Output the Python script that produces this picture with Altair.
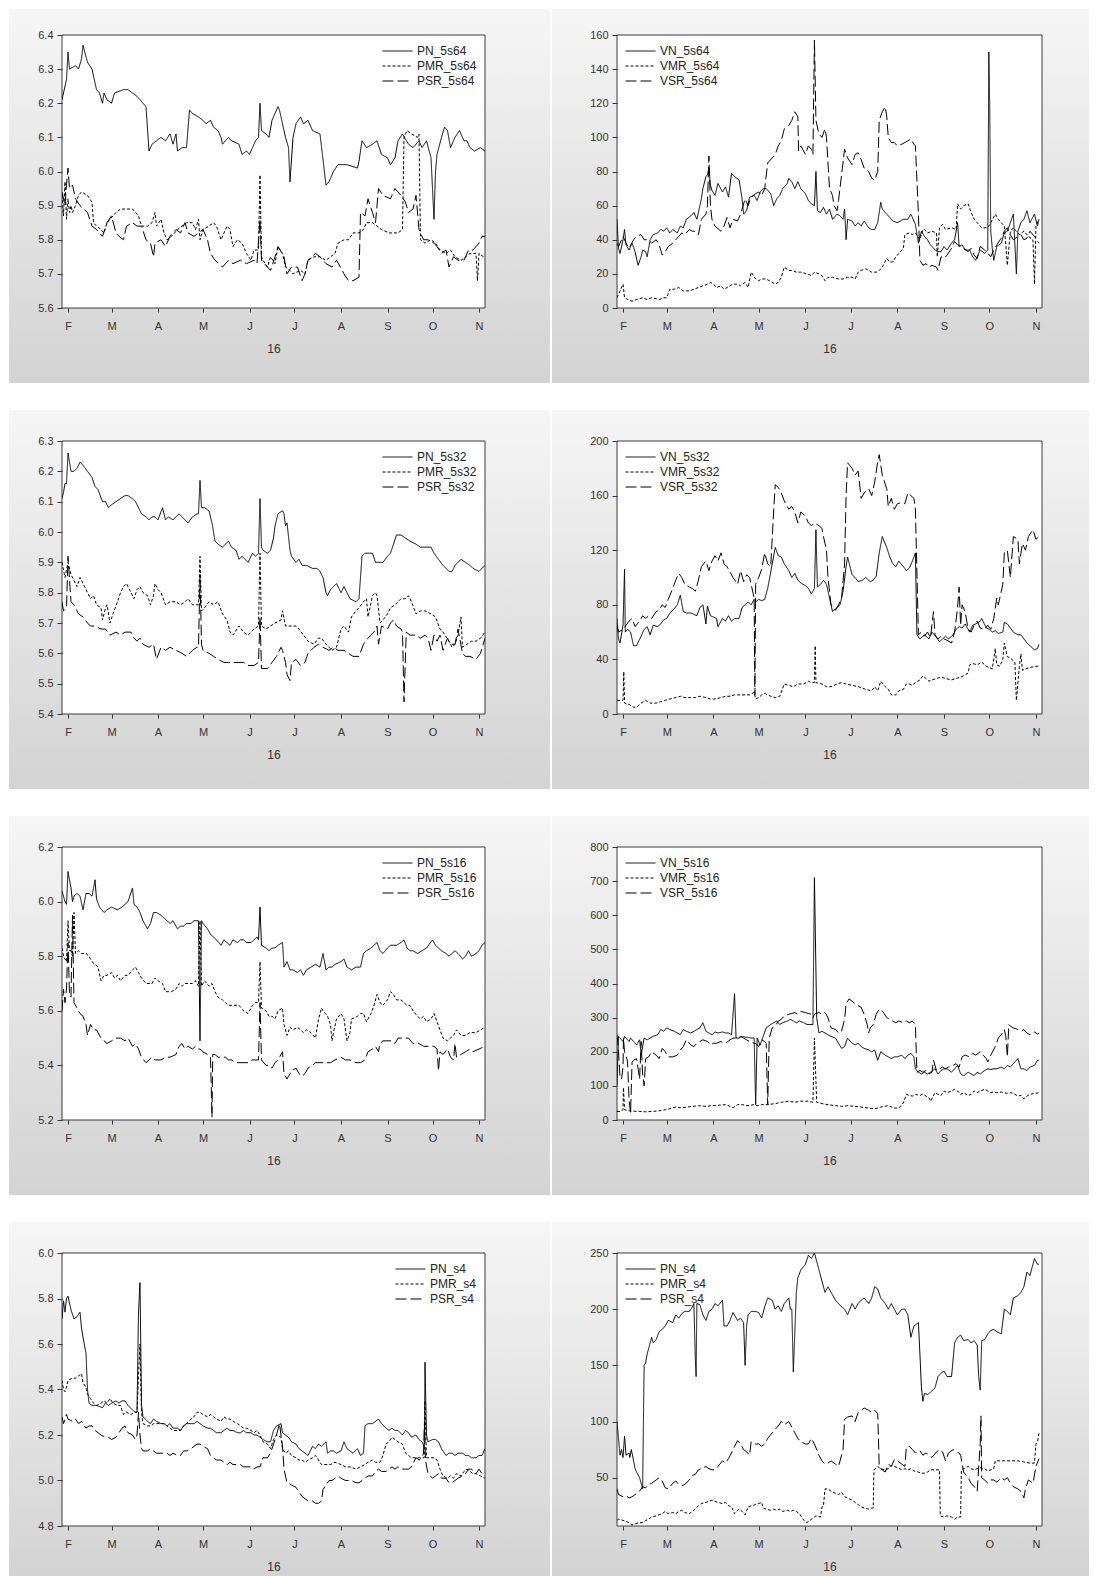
import altair as alt
import pandas as pd

START = pd.Timestamp("2016-01-28")
X_DOMAIN = ["2016-01-28T00:00:00", "2016-11-05T00:00:00"]
MONTH_TICKS = [alt.DateTime(year=2016, month=m, date=1) for m in range(2, 12)]
YEAR_LABEL = "16"

# ---------- data: (day offset from 2016-01-28, value) ----------
PN_5s64 = [(0,6.21),(3,6.27),(4,6.35),(5,6.30),(9,6.31),(11,6.30),(13,6.33),(14,6.37),(17,6.32),(20,6.30),(23,6.24),(25,6.23),(27,6.20),(28,6.23),(30,6.21),(33,6.20),(35,6.23),(41,6.24),(44,6.24),(47,6.23),(50,6.22),(54,6.20),(56,6.19),(58,6.06),(60,6.08),(63,6.09),(66,6.10),(69,6.09),(72,6.11),(74,6.08),(76,6.11),(77,6.06),(80,6.07),(83,6.07),(85,6.18),(87,6.17),(91,6.16),(94,6.15),(96,6.14),(99,6.15),(101,6.13),(104,6.12),(106,6.10),(107,6.08),(111,6.10),(113,6.09),(118,6.08),(120,6.05),(123,6.06),(125,6.05),(127,6.07),(129,6.09),(131,6.10),(132,6.20),(133,6.12),(136,6.11),(138,6.10),(140,6.15),(144,6.19),(145,6.18),(149,6.10),(151,6.07),(152,5.97),(154,6.10),(156,6.14),(159,6.16),(161,6.14),(164,6.15),(167,6.12),(172,6.11),(176,5.96),(178,5.97),(181,6.00),(184,6.02),(190,6.02),(197,6.01),(198,6.03),(200,6.09),(203,6.07),(207,6.08),(210,6.09),(213,6.05),(217,6.04),(219,6.02),(222,6.04),(224,6.09),(227,6.11),(231,6.08),(234,6.07),(238,6.09),(240,6.07),(243,6.09),(246,6.04),(247,5.95),(248,5.86),(249,6.00),(250,6.05),(253,6.10),(255,6.13),(257,6.12),(259,6.07),(262,6.10),(265,6.12),(268,6.09),(270,6.09),(272,6.07),(275,6.06),(279,6.07),(282,6.06)]
PMR_5s64 = [(0,5.93),(1,5.87),(2,5.97),(3,5.86),(4,5.92),(5,5.88),(6,5.90),(7,5.88),(9,5.90),(11,5.93),(13,5.94),(17,5.93),(20,5.91),(21,5.85),(23,5.84),(26,5.83),(28,5.82),(30,5.85),(32,5.86),(36,5.88),(39,5.89),(43,5.89),(47,5.89),(49,5.88),(51,5.87),(53,5.84),(57,5.84),(60,5.85),(62,5.88),(63,5.84),(66,5.86),(68,5.82),(70,5.80),(73,5.81),(77,5.83),(80,5.84),(83,5.85),(87,5.85),(89,5.83),(91,5.86),(92,5.80),(94,5.83),(98,5.84),(101,5.85),(103,5.84),(106,5.80),(108,5.82),(110,5.84),(112,5.83),(114,5.78),(117,5.80),(120,5.79),(123,5.76),(126,5.74),(128,5.77),(131,5.77),(132,5.99),(133,5.75),(134,5.74),(137,5.72),(139,5.75),(142,5.73),(144,5.78),(147,5.76),(149,5.72),(152,5.71),(154,5.70),(159,5.71),(162,5.70),(164,5.74),(168,5.75),(172,5.75),(176,5.74),(179,5.75),(182,5.76),(184,5.79),(188,5.80),(191,5.80),(194,5.82),(198,5.82),(201,5.83),(203,5.85),(207,5.85),(210,5.84),(213,5.83),(218,5.82),(221,5.82),(224,5.82),(227,5.83),(228,6.10),(230,6.12),(233,6.11),(237,6.10),(238,6.11),(239,5.80),(242,5.79),(246,5.80),(249,5.79),(252,5.77),(256,5.76),(259,5.77),(262,5.75),(266,5.74),(269,5.75),(272,5.76),(276,5.76),(277,5.68),(278,5.76),(281,5.75)]
PSR_5s64 = [(0,5.94),(2,5.90),(3,5.96),(4,6.01),(5,5.95),(7,5.96),(9,5.92),(12,5.90),(17,5.88),(20,5.84),(23,5.83),(27,5.81),(30,5.85),(33,5.87),(36,5.82),(38,5.81),(41,5.80),(43,5.84),(47,5.85),(50,5.84),(53,5.84),(56,5.80),(59,5.79),(61,5.75),(62,5.79),(66,5.80),(69,5.78),(72,5.81),(76,5.83),(79,5.82),(82,5.85),(84,5.82),(88,5.81),(91,5.82),(94,5.83),(97,5.80),(99,5.76),(102,5.74),(107,5.72),(111,5.74),(114,5.73),(119,5.74),(123,5.73),(128,5.74),(130,5.73),(132,5.86),(133,5.74),(137,5.72),(139,5.71),(142,5.75),(144,5.78),(148,5.75),(150,5.70),(153,5.72),(157,5.72),(160,5.68),(162,5.70),(164,5.74),(169,5.76),(172,5.75),(176,5.73),(180,5.72),(183,5.74),(188,5.70),(191,5.68),(194,5.68),(198,5.69),(199,5.88),(202,5.87),(204,5.92),(207,5.88),(209,5.85),(211,5.95),(214,5.93),(219,5.92),(222,5.95),(226,5.93),(229,5.91),(231,5.88),(234,5.89),(236,5.93),(238,5.83),(241,5.80),(244,5.80),(248,5.79),(250,5.78),(253,5.76),(256,5.77),(258,5.72),(261,5.75),(264,5.74),(268,5.74),(271,5.77),(274,5.77),(278,5.79),(280,5.81),(282,5.81)]

VN_5s64 = [(0,52),(1,35),(2,32),(4,40),(5,46),(6,37),(8,34),(10,38),(12,33),(14,25),(16,30),(17,34),(19,33),(20,30),(22,40),(24,43),(27,44),(29,46),(31,45),(33,47),(35,44),(37,46),(40,44),(42,48),(44,47),(46,52),(49,54),(51,56),(53,52),(55,60),(56,64),(57,70),(59,77),(60,78),(61,82),(62,72),(63,69),(65,66),(67,73),(70,68),(72,71),(74,65),(76,79),(78,77),(81,75),(83,64),(84,55),(86,57),(88,65),(91,66),(93,63),(95,68),(97,70),(99,70),(102,67),(104,60),(106,64),(108,66),(110,70),(113,73),(114,76),(116,74),(118,70),(120,74),(122,70),(125,67),(127,63),(129,61),(131,60),(132,80),(133,57),(135,56),(137,59),(139,55),(141,58),(143,52),(146,55),(148,54),(150,52),(151,58),(152,40),(153,52),(156,51),(158,48),(160,50),(162,48),(164,51),(167,47),(169,46),(171,46),(173,50),(175,62),(176,58),(179,55),(181,53),(183,51),(186,50),(190,52),(193,52),(195,55),(197,51),(198,49),(200,38),(202,45),(204,42),(206,40),(208,37),(211,34),(213,33),(215,33),(217,36),(219,34),(222,38),(224,40),(226,50),(227,36),(229,37),(231,34),(234,34),(236,30),(238,28),(241,34),(244,32),(246,34),(246.7,150),(247.3,120),(248,45),(249,35),(250,28),(252,36),(255,38),(257,44),(259,45),(261,50),(263,55),(265,20),(266,45),(268,50),(270,52),(272,57),(274,50),(277,55),(279,48),(280,52)]
VMR_5s64 = [(0,6),(2,10),(4,14),(5,6),(7,5),(10,4),(13,5),(17,6),(20,5),(23,6),(28,5),(31,6),(33,6),(35,11),(38,11),(41,12),(44,10),(48,10),(51,11),(54,12),(57,13),(60,14),(62,15),(64,14),(66,12),(69,13),(71,11),(73,12),(75,13),(77,14),(80,14),(82,13),(85,15),(87,12),(89,21),(92,17),(94,16),(96,17),(99,17),(103,15),(105,14),(107,15),(109,18),(111,24),(114,22),(116,22),(119,21),(122,21),(126,20),(129,19),(131,21),(134,20),(136,19),(138,16),(140,18),(143,18),(147,17),(150,17),(153,18),(156,18),(158,17),(160,21),(162,22),(165,23),(169,21),(172,21),(174,22),(176,24),(179,29),(181,27),(183,27),(185,30),(187,32),(190,35),(191,43),(194,44),(196,43),(198,44),(201,40),(203,46),(204,46),(206,44),(209,45),(212,44),(212.5,30),(214,47),(216,49),(218,46),(222,47),(225,46),(226,61),(228,58),(230,60),(233,61),(235,56),(237,52),(239,50),(242,47),(246,47),(248,50),(251,55),(253,52),(257,48),(259,25),(261,45),(263,47),(267,43),(270,45),(273,42),(276,40),(277,14),(278,48),(280,52)]
VSR_5s64 = [(0,38),(1,36),(4,42),(6,38),(8,35),(11,40),(13,42),(16,43),(18,40),(21,40),(23,38),(26,40),(28,37),(30,31),(32,33),(34,36),(37,38),(39,40),(41,42),(43,44),(45,43),(48,46),(50,45),(52,45),(54,43),(56,52),(59,55),(60,60),(61,89),(62,60),(63,52),(65,48),(69,45),(71,48),(73,53),(75,47),(77,52),(80,51),(82,55),(85,64),(87,60),(89,65),(92,67),(94,68),(96,66),(98,70),(100,85),(103,88),(105,90),(107,95),(109,98),(111,105),(114,107),(116,110),(118,115),(120,112),(120.5,92),(122,95),(125,90),(127,95),(129,93),(130,90),(131,157),(132,110),(134,102),(136,100),(138,105),(139,100),(141,70),(143,66),(144,60),(146,57),(147,63),(149,78),(151,93),(153,88),(156,84),(158,90),(160,91),(162,87),(164,82),(167,80),(169,76),(171,75),(173,80),(174,110),(176,115),(178,118),(179,112),(180,100),(182,97),(184,97),(186,95),(189,96),(191,97),(193,98),(195,99),(197,96),(198,95),(200,55),(201,28),(203,25),(205,26),(207,24),(209,25),(212,24),(213,22),(215,30),(217,29),(219,31),(222,35),(224,39),(226,37),(228,36),(230,35),(233,33),(235,35),(237,31),(239,29),(241,36),(244,34),(246,32),(248,30),(250,34),(252,37),(255,41),(257,45),(259,47),(261,43),(263,40),(266,42),(268,43),(270,40),(272,41),(274,45),(277,42),(279,39),(280,38)]

PN_5s32 = [(0,6.11),(1,6.13),(2,6.16),(3,6.16),(4,6.26),(6,6.20),(8,6.20),(10,6.21),(12,6.23),(14,6.22),(17,6.20),(20,6.18),(22,6.15),(24,6.14),(27,6.10),(29,6.10),(31,6.08),(33,6.09),(36,6.10),(39,6.11),(42,6.12),(44,6.12),(47,6.11),(49,6.10),(51,6.08),(53,6.06),(56,6.05),(58,6.04),(60,6.05),(62,6.05),(64,6.04),(67,6.08),(69,6.04),(71,6.05),(74,6.04),(78,6.06),(80,6.05),(82,6.04),(84,6.03),(87,6.05),(90,6.06),(91,6.06),(92,6.17),(93,6.08),(95,6.08),(98,6.07),(100,6.03),(102,5.97),(104,5.96),(107,5.95),(109,5.96),(111,5.97),(113,5.95),(116,5.94),(118,5.91),(120,5.92),(122,5.91),(124,5.90),(127,5.93),(129,5.92),(131,5.93),(132,6.11),(133,5.95),(134,5.94),(137,5.93),(139,5.94),(141,5.98),(142,6.02),(144,6.06),(147,6.07),(148,6.06),(149,6.02),(150,6.03),(152,5.94),(153,5.92),(156,5.90),(158,5.91),(160,5.89),(163,5.89),(167,5.88),(170,5.88),(172,5.87),(174,5.85),(176,5.80),(177,5.79),(179,5.81),(181,5.82),(183,5.83),(186,5.80),(188,5.82),(190,5.80),(192,5.78),(196,5.77),(198,5.78),(200,5.92),(202,5.93),(204,5.93),(207,5.93),(209,5.90),(211,5.90),(214,5.90),(217,5.92),(219,5.93),(221,5.96),(223,5.99),(226,5.99),(229,5.98),(232,5.97),(236,5.96),(239,5.95),(242,5.95),(246,5.95),(248,5.93),(251,5.91),(254,5.89),(258,5.87),(260,5.87),(262,5.89),(266,5.91),(269,5.90),(272,5.89),(274,5.88),(278,5.87),(280,5.88),(282,5.89)]
PMR_5s32 = [(0,5.90),(2,5.85),(4,5.90),(6,5.86),(8,5.84),(10,5.82),(12,5.85),(14,5.83),(17,5.80),(19,5.78),(21,5.79),(23,5.76),(26,5.75),(27,5.71),(29,5.75),(30,5.76),(32,5.70),(34,5.73),(37,5.77),(39,5.80),(41,5.82),(43,5.83),(46,5.80),(48,5.78),(50,5.81),(52,5.82),(54,5.80),(57,5.79),(59,5.76),(61,5.79),(62,5.83),(64,5.81),(66,5.80),(69,5.76),(72,5.77),(76,5.77),(79,5.76),(82,5.77),(84,5.78),(87,5.76),(90,5.76),(91,5.76),(92,5.92),(93,5.74),(95,5.75),(98,5.77),(101,5.76),(104,5.77),(107,5.73),(110,5.71),(112,5.67),(114,5.66),(118,5.69),(121,5.67),(124,5.66),(128,5.68),(131,5.69),(132,5.93),(133,5.69),(136,5.68),(139,5.69),(142,5.70),(146,5.71),(147,5.74),(149,5.69),(152,5.69),(156,5.69),(158,5.68),(161,5.66),(164,5.64),(168,5.63),(171,5.65),(173,5.65),(176,5.63),(178,5.62),(180,5.61),(183,5.62),(186,5.68),(188,5.69),(191,5.67),(193,5.72),(196,5.74),(198,5.75),(201,5.77),(203,5.78),(204,5.72),(207,5.79),(209,5.80),(210,5.79),(212,5.70),(214,5.71),(217,5.73),(219,5.75),(222,5.76),(226,5.78),(229,5.78),(231,5.79),(233,5.77),(236,5.73),(239,5.74),(242,5.74),(246,5.73),(249,5.72),(252,5.68),(254,5.67),(258,5.64),(260,5.62),(262,5.63),(264,5.66),(266,5.72),(267,5.62),(270,5.63),(273,5.64),(276,5.64),(279,5.65),(282,5.67)]
PSR_5s32 = [(0,5.77),(1,5.74),(3,5.75),(4,5.92),(6,5.77),(8,5.76),(11,5.73),(14,5.72),(17,5.70),(19,5.69),(22,5.69),(26,5.68),(29,5.68),(32,5.66),(36,5.67),(39,5.66),(42,5.67),(46,5.67),(48,5.65),(50,5.64),(52,5.65),(54,5.63),(58,5.62),(61,5.63),(63,5.58),(66,5.62),(69,5.61),(72,5.62),(76,5.61),(80,5.60),(83,5.59),(87,5.61),(90,5.62),(91,5.62),(92,5.86),(93,5.63),(94,5.61),(98,5.60),(101,5.59),(104,5.58),(108,5.57),(111,5.57),(114,5.57),(118,5.57),(121,5.57),(124,5.56),(128,5.56),(131,5.57),(132,5.72),(133,5.55),(137,5.55),(140,5.57),(143,5.59),(146,5.62),(147,5.61),(149,5.57),(150,5.53),(152,5.51),(153,5.57),(156,5.58),(159,5.56),(162,5.57),(164,5.60),(168,5.62),(171,5.63),(174,5.62),(178,5.61),(181,5.62),(184,5.61),(188,5.61),(191,5.60),(194,5.59),(198,5.59),(201,5.63),(204,5.65),(208,5.67),(210,5.69),(211,5.63),(213,5.69),(217,5.68),(219,5.70),(221,5.71),(223,5.69),(226,5.68),(227,5.67),(228,5.44),(229.5,5.67),(232,5.66),(236,5.66),(239,5.65),(242,5.66),(244,5.65),(246,5.61),(248,5.66),(250,5.64),(252,5.66),(254,5.61),(257,5.65),(259,5.63),(262,5.63),(264,5.68),(267,5.60),(269,5.59),(272,5.59),(276,5.58),(279,5.60),(282,5.65)]

VN_5s32 = [(0,70),(1,55),(2,52),(4,65),(5,106),(5.5,60),(7,62),(9,60),(11,50),(13,50),(16,57),(18,62),(20,64),(22,58),(24,65),(27,64),(29,66),(31,69),(33,70),(35,74),(38,77),(40,80),(42,87),(44,75),(46,74),(49,74),(51,73),(53,72),(55,78),(57,80),(59,66),(60,79),(62,72),(64,71),(66,70),(67,64),(70,70),(72,68),(74,72),(76,68),(78,70),(81,70),(83,78),(85,80),(87,82),(89,80),(91,84),(92,82),(94,84),(96,83),(98,84),(100,92),(103,110),(105,122),(107,116),(109,115),(111,110),(114,105),(116,100),(118,103),(120,98),(122,96),(125,94),(127,92),(129,88),(131,92),(132,135),(133,93),(135,95),(137,98),(139,95),(141,85),(143,75),(146,78),(148,80),(150,90),(152,108),(153,115),(156,102),(158,100),(160,97),(163,98),(165,100),(168,97),(170,98),(172,101),(174,118),(176,130),(179,122),(181,115),(183,110),(185,108),(187,112),(190,108),(192,105),(194,107),(196,112),(198,118),(199,58),(201,55),(204,58),(207,55),(209,60),(212,56),(214,53),(216,55),(218,57),(220,55),(223,58),(225,62),(227,64),(229,63),(231,66),(234,60),(236,65),(238,66),(241,68),(242,70),(245,63),(247,62),(249,60),(251,61),(253,59),(256,60),(257,67),(259,66),(261,63),(263,60),(266,58),(268,58),(270,55),(272,52),(274,50),(277,47),(279,48),(280,51)]
VMR_5s32 = [(0,10),(2,10),(4,10),(4.5,31),(5,8),(8,7),(11,5),(13,5),(16,8),(19,10),(22,8),(26,8),(29,9),(32,10),(35,11),(39,12),(42,13),(45,12),(49,12),(52,12),(55,13),(59,12),(62,11),(65,11),(69,12),(72,13),(75,13),(78,14),(82,14),(85,14),(88,14),(91,16),(92,11),(94,12),(96,14),(98,15),(102,13),(105,12),(108,13),(111,22),(114,21),(117,20),(120,22),(124,22),(127,24),(129,23),(131,23),(131.5,50),(132,23),(136,22),(139,20),(142,20),(146,22),(149,23),(152,22),(156,21),(160,20),(163,19),(165,18),(169,17),(171,20),(173,17),(175,24),(178,20),(180,18),(182,14),(185,14),(187,17),(190,18),(192,22),(194,22),(196,21),(198,23),(201,25),(203,28),(205,26),(207,24),(209,25),(212,26),(215,27),(218,26),(222,25),(225,26),(228,27),(230,28),(233,30),(234,36),(236,37),(239,36),(242,38),(245,35),(247,34),(249,33),(251,48),(252,36),(254,35),(256,40),(257,52),(259,42),(261,41),(264,38),(265,10),(267,35),(268,44),(269,32),(271,33),(274,34),(278,35),(280,35)]
VSR_5s32 = [(0,65),(1,60),(4,62),(6,65),(8,68),(10,70),(12,64),(15,68),(17,72),(19,70),(21,72),(23,70),(26,75),(28,76),(30,80),(32,78),(34,84),(37,92),(39,98),(41,103),(43,100),(45,95),(48,93),(50,92),(52,90),(54,98),(56,108),(59,112),(61,105),(63,112),(65,116),(67,112),(69,118),(71,110),(73,108),(75,104),(77,100),(80,95),(82,105),(84,97),(86,102),(88,100),(91,85),(91.5,14),(92,95),(94,100),(96,106),(98,118),(100,110),(102,108),(104,150),(105,168),(107,166),(109,162),(111,156),(114,150),(116,152),(118,148),(120,140),(122,148),(125,145),(127,140),(129,138),(131,140),(134,138),(136,136),(137,130),(139,120),(140,100),(142,80),(145,76),(147,80),(149,85),(151,110),(152,160),(153,184),(156,180),(158,175),(160,178),(162,158),(164,162),(167,165),(169,160),(171,170),(173,185),(174,190),(176,175),(179,165),(180,152),(182,158),(184,150),(186,154),(189,155),(191,154),(193,162),(195,160),(197,158),(198,150),(200,58),(202,60),(204,57),(206,60),(208,56),(210,75),(211,58),(213,55),(215,57),(217,55),(219,54),(222,52),(224,60),(226,78),(227,93),(228,65),(229,80),(231,75),(233,62),(235,60),(237,65),(239,68),(241,63),(244,62),(246,65),(248,62),(250,70),(252,85),(253,80),(256,95),(257,118),(259,120),(261,100),(263,130),(266,128),(267,110),(269,125),(271,120),(273,130),(276,135),(278,128),(280,130)]

PN_5s16 = [(0,6.04),(2,6.00),(3,5.99),(4,6.11),(6,6.05),(7,6.00),(8,6.02),(10,6.03),(12,6.02),(14,5.97),(16,6.03),(18,6.03),(20,6.02),(22,6.08),(23,6.01),(25,5.98),(28,5.96),(30,5.97),(33,5.98),(37,5.97),(40,5.98),(42,5.99),(44,6.00),(47,6.05),(48,5.99),(50,5.98),(52,5.96),(54,5.93),(57,5.90),(59,5.92),(61,5.96),(63,5.96),(66,5.95),(68,5.94),(70,5.93),(72,5.92),(74,5.93),(77,5.90),(79,5.91),(81,5.91),(83,5.92),(86,5.92),(88,5.93),(91,5.93),(92,5.49),(93,5.93),(94,5.92),(97,5.90),(99,5.88),(101,5.87),(103,5.86),(106,5.84),(108,5.86),(110,5.85),(112,5.84),(114,5.86),(117,5.85),(119,5.86),(121,5.86),(123,5.85),(126,5.85),(128,5.86),(130,5.87),(131,5.86),(132,5.98),(133,5.84),(136,5.83),(138,5.82),(140,5.83),(142,5.83),(144,5.84),(147,5.85),(148,5.76),(150,5.78),(152,5.75),(154,5.75),(157,5.74),(159,5.75),(161,5.73),(163,5.75),(166,5.76),(169,5.77),(172,5.76),(174,5.81),(176,5.75),(178,5.76),(180,5.76),(182,5.77),(186,5.78),(188,5.79),(190,5.76),(193,5.75),(196,5.76),(199,5.76),(201,5.81),(203,5.82),(206,5.83),(208,5.84),(210,5.85),(212,5.82),(214,5.81),(217,5.83),(219,5.84),(221,5.84),(223,5.84),(226,5.85),(228,5.86),(230,5.83),(232,5.82),(234,5.82),(237,5.81),(240,5.82),(243,5.83),(247,5.86),(249,5.84),(251,5.83),(253,5.82),(256,5.81),(258,5.80),(260,5.81),(262,5.82),(264,5.81),(267,5.79),(269,5.80),(271,5.82),(273,5.80),(276,5.81),(278,5.82),(280,5.84),(282,5.85)]
PMR_5s16 = [(0,5.83),(1,5.80),(2,5.79),(3,5.78),(4,5.93),(5,5.82),(6,5.82),(7,5.80),(8,5.96),(9,5.81),(11,5.82),(13,5.81),(16,5.81),(18,5.80),(20,5.78),(22,5.77),(24,5.76),(26,5.71),(28,5.73),(30,5.73),(33,5.74),(35,5.72),(37,5.73),(39,5.71),(42,5.73),(44,5.73),(47,5.75),(49,5.76),(51,5.74),(53,5.72),(56,5.70),(58,5.70),(60,5.70),(62,5.72),(64,5.71),(67,5.70),(69,5.67),(71,5.67),(73,5.67),(76,5.68),(78,5.70),(80,5.69),(82,5.70),(84,5.70),(87,5.70),(89,5.71),(91,5.69),(92,5.93),(93,5.69),(95,5.71),(98,5.69),(100,5.70),(102,5.67),(104,5.65),(107,5.64),(109,5.63),(111,5.62),(114,5.62),(118,5.62),(121,5.60),(124,5.59),(127,5.62),(129,5.63),(131,5.63),(132,5.78),(133,5.61),(136,5.60),(138,5.58),(140,5.58),(142,5.57),(144,5.60),(147,5.61),(148,5.55),(150,5.51),(152,5.54),(154,5.53),(157,5.54),(159,5.53),(161,5.52),(163,5.53),(166,5.52),(169,5.50),(171,5.57),(173,5.61),(174,5.60),(177,5.58),(179,5.55),(180,5.49),(181,5.52),(183,5.57),(186,5.59),(188,5.57),(190,5.49),(192,5.52),(193,5.57),(197,5.58),(199,5.59),(201,5.59),(203,5.56),(206,5.59),(208,5.62),(210,5.66),(212,5.63),(214,5.62),(217,5.64),(219,5.67),(221,5.66),(223,5.64),(226,5.64),(228,5.63),(230,5.62),(232,5.62),(234,5.60),(237,5.58),(239,5.57),(241,5.58),(243,5.56),(246,5.57),(248,5.59),(250,5.56),(252,5.53),(254,5.50),(257,5.49),(259,5.50),(261,5.51),(263,5.53),(266,5.51),(269,5.51),(272,5.52),(276,5.52),(279,5.53),(282,5.54)]
PSR_5s16 = [(0,5.60),(1,5.68),(2,5.63),(3,5.68),(4,5.85),(5,5.66),(6,5.65),(7,5.95),(8,5.63),(10,5.61),(12,5.59),(14,5.58),(16,5.55),(17,5.51),(19,5.55),(21,5.53),(23,5.53),(26,5.50),(28,5.49),(30,5.48),(33,5.49),(36,5.50),(39,5.50),(42,5.49),(44,5.50),(47,5.47),(49,5.48),(51,5.46),(53,5.43),(56,5.41),(58,5.42),(60,5.43),(62,5.42),(66,5.42),(69,5.43),(72,5.43),(76,5.44),(78,5.47),(80,5.48),(82,5.46),(84,5.47),(87,5.46),(89,5.47),(91,5.46),(92,5.46),(94,5.45),(97,5.44),(99,5.43),(100,5.21),(100.5,5.44),(102,5.44),(104,5.43),(107,5.43),(109,5.43),(111,5.42),(113,5.42),(116,5.41),(118,5.41),(120,5.41),(122,5.41),(124,5.41),(127,5.42),(129,5.42),(131,5.42),(132,5.63),(133,5.42),(136,5.40),(138,5.40),(140,5.39),(142,5.41),(144,5.42),(147,5.45),(148,5.37),(150,5.35),(151,5.36),(153,5.38),(156,5.39),(158,5.37),(160,5.36),(162,5.37),(164,5.39),(167,5.40),(169,5.41),(172,5.41),(176,5.41),(179,5.41),(182,5.42),(186,5.43),(189,5.42),(192,5.42),(196,5.41),(199,5.41),(202,5.42),(204,5.45),(207,5.46),(209,5.47),(211,5.45),(212,5.48),(214,5.49),(218,5.49),(220,5.49),(222,5.48),(224,5.50),(228,5.50),(231,5.50),(234,5.48),(238,5.48),(241,5.47),(244,5.47),(248,5.47),(250,5.46),(251,5.38),(252,5.45),(254,5.44),(257,5.46),(259,5.43),(261,5.42),(262,5.48),(263,5.43),(266,5.44),(269,5.45),(272,5.46),(274,5.45),(278,5.46),(282,5.47)]

VN_5s16 = [(0,100),(1,245),(2,240),(4,230),(5,245),(6,240),(8,230),(9,240),(11,230),(13,220),(15,235),(16,190),(18,240),(20,235),(22,240),(24,245),(27,250),(29,265),(31,260),(33,270),(35,265),(38,260),(40,255),(42,250),(44,265),(46,260),(49,255),(51,260),(53,265),(55,270),(57,285),(59,260),(61,255),(63,250),(65,258),(67,255),(70,258),(72,255),(74,255),(76,250),(78,370),(79,240),(81,240),(83,245),(85,243),(87,242),(89,240),(91,240),(92,45),(93,240),(95,220),(97,245),(99,270),(102,280),(104,285),(106,290),(108,280),(110,285),(113,290),(115,295),(117,290),(119,285),(121,290),(124,285),(126,280),(128,280),(130,280),(131,710),(132.5,300),(134,255),(136,260),(138,255),(140,250),(142,245),(145,240),(147,225),(149,210),(151,215),(153,240),(156,225),(158,220),(160,225),(162,215),(164,210),(167,205),(169,200),(171,205),(173,175),(175,200),(178,190),(180,185),(182,180),(184,185),(186,185),(189,190),(191,180),(193,190),(195,195),(197,185),(198,150),(200,140),(202,135),(204,140),(206,135),(208,140),(211,150),(213,135),(215,145),(217,150),(219,150),(222,140),(224,150),(226,160),(228,135),(230,130),(233,140),(235,135),(237,130),(239,140),(241,135),(244,145),(246,150),(248,148),(250,150),(252,150),(255,155),(257,150),(259,160),(261,155),(263,165),(266,180),(268,150),(270,150),(272,145),(274,155),(277,160),(279,175),(280,175)]
VMR_5s16 = [(0,25),(2,25),(4,30),(4.3,95),(5,30),(7,28),(10,26),(15,25),(19,24),(23,25),(28,27),(32,30),(35,33),(39,38),(42,36),(45,37),(50,40),(54,42),(59,40),(63,42),(67,43),(72,45),(75,40),(77,36),(80,45),(83,45),(87,42),(91,45),(93,42),(96,45),(100,45),(105,48),(109,52),(114,55),(118,52),(122,55),(127,55),(130,52),(131,240),(132.5,52),(136,48),(140,45),(145,42),(149,40),(153,42),(158,40),(162,38),(167,35),(171,33),(175,38),(180,42),(184,35),(187,35),(190,50),(192,75),(194,72),(196,70),(198,75),(201,72),(203,76),(205,70),(207,65),(208,55),(211,80),(213,75),(215,72),(217,85),(219,80),(222,85),(224,90),(226,85),(228,75),(230,80),(233,72),(235,75),(237,85),(239,80),(241,85),(244,90),(246,85),(248,80),(250,82),(252,80),(255,82),(257,80),(259,78),(261,80),(263,78),(266,70),(268,72),(270,62),(272,70),(274,75),(277,78),(280,80)]
VSR_5s16 = [(0,250),(1,200),(2,125),(3,120),(4,155),(4.3,240),(5,200),(6,190),(7,170),(8,60),(9,20),(10,170),(11,175),(13,180),(15,120),(16,230),(17,135),(18,100),(19,180),(21,185),(23,200),(26,190),(28,180),(30,210),(32,200),(34,185),(37,185),(40,190),(42,205),(44,215),(46,235),(49,220),(51,215),(53,225),(55,230),(57,235),(60,230),(62,220),(64,225),(66,225),(69,230),(71,225),(73,228),(75,235),(77,240),(80,240),(82,245),(84,240),(86,235),(88,230),(91,225),(92,225),(94,215),(96,235),(98,230),(99,225),(100,45),(101,240),(103,270),(105,275),(107,290),(109,295),(111,305),(114,310),(116,312),(118,315),(120,310),(122,318),(125,315),(127,312),(129,310),(130,300),(131,310),(134,315),(136,310),(138,315),(140,300),(142,270),(145,265),(147,255),(149,260),(151,295),(152,340),(154,355),(156,348),(158,340),(160,335),(162,330),(164,310),(166,280),(167,255),(168,270),(170,280),(172,310),(174,325),(176,320),(179,300),(181,295),(183,290),(185,285),(187,290),(190,285),(192,290),(194,285),(196,290),(198,280),(199,140),(201,145),(203,140),(205,145),(207,135),(209,140),(210,175),(212,145),(214,150),(216,155),(218,150),(220,155),(223,160),(225,165),(227,155),(229,185),(231,190),(234,185),(236,195),(238,190),(241,200),(243,190),(245,180),(246,170),(248,190),(251,215),(253,240),(255,250),(257,265),(258,245),(259,185),(260,280),(261,275),(263,270),(266,265),(268,260),(270,265),(272,255),(274,250),(277,258),(279,252),(280,255)]

PN_s4 = [(0,5.71),(1,5.79),(2,5.74),(3,5.80),(4,5.81),(6,5.75),(8,5.71),(10,5.72),(12,5.74),(13,5.67),(14,5.63),(16,5.56),(17,5.40),(18,5.34),(20,5.33),(23,5.33),(27,5.32),(29,5.34),(31,5.33),(33,5.34),(36,5.35),(38,5.34),(40,5.35),(42,5.35),(44,5.33),(47,5.31),(49,5.30),(50,5.30),(51,5.74),(52,5.87),(53,5.33),(54,5.28),(57,5.26),(59,5.25),(61,5.27),(63,5.26),(66,5.25),(68,5.25),(70,5.24),(72,5.25),(74,5.23),(77,5.23),(79,5.22),(81,5.24),(83,5.25),(86,5.25),(88,5.25),(90,5.26),(92,5.25),(94,5.24),(97,5.23),(99,5.23),(101,5.22),(103,5.21),(106,5.21),(108,5.22),(110,5.23),(112,5.22),(114,5.22),(117,5.21),(119,5.21),(121,5.22),(123,5.21),(126,5.21),(128,5.20),(130,5.20),(132,5.19),(134,5.18),(137,5.17),(139,5.17),(141,5.22),(143,5.24),(146,5.25),(147,5.21),(149,5.20),(151,5.19),(153,5.17),(156,5.16),(158,5.14),(160,5.13),(162,5.12),(164,5.11),(167,5.15),(169,5.14),(171,5.16),(173,5.15),(176,5.17),(177,5.12),(179,5.13),(181,5.13),(183,5.12),(186,5.13),(188,5.17),(190,5.14),(192,5.13),(194,5.12),(197,5.14),(199,5.11),(201,5.12),(202,5.24),(204,5.25),(207,5.25),(209,5.26),(211,5.27),(213,5.25),(216,5.23),(218,5.22),(220,5.23),(222,5.22),(224,5.22),(227,5.20),(229,5.22),(231,5.21),(233,5.19),(236,5.20),(238,5.18),(240,5.17),(241.5,5.15),(242,5.52),(243,5.20),(244,5.17),(247,5.18),(249,5.18),(251,5.17),(253,5.14),(256,5.11),(258,5.12),(260,5.12),(262,5.11),(264,5.12),(267,5.12),(269,5.11),(271,5.11),(273,5.10),(276,5.10),(278,5.11),(280,5.11),(282,5.14)]
PMR_s4 = [(0,5.44),(1,5.40),(2,5.39),(3,5.41),(4,5.44),(7,5.45),(9,5.45),(11,5.46),(13,5.47),(14,5.43),(16,5.41),(17,5.38),(19,5.36),(21,5.34),(23,5.33),(26,5.34),(28,5.35),(30,5.34),(32,5.36),(34,5.34),(37,5.33),(39,5.33),(41,5.29),(43,5.30),(46,5.29),(48,5.30),(50,5.30),(51,5.46),(52,5.60),(53,5.30),(54,5.25),(57,5.24),(59,5.24),(61,5.25),(63,5.25),(66,5.25),(68,5.25),(70,5.24),(72,5.23),(74,5.22),(77,5.22),(79,5.22),(81,5.24),(83,5.25),(86,5.27),(88,5.28),(90,5.30),(92,5.30),(94,5.29),(97,5.28),(99,5.29),(101,5.28),(103,5.27),(106,5.26),(108,5.28),(110,5.27),(112,5.27),(114,5.26),(117,5.25),(119,5.24),(121,5.23),(123,5.23),(126,5.22),(128,5.21),(130,5.22),(132,5.20),(134,5.17),(137,5.16),(139,5.14),(141,5.18),(143,5.20),(146,5.19),(147,5.14),(149,5.12),(151,5.13),(153,5.11),(156,5.10),(158,5.09),(160,5.09),(162,5.08),(164,5.09),(167,5.10),(169,5.11),(171,5.09),(173,5.07),(176,5.07),(179,5.07),(182,5.08),(186,5.07),(189,5.06),(192,5.06),(196,5.05),(199,5.06),(202,5.07),(204,5.08),(207,5.09),(209,5.08),(212,5.08),(214,5.11),(216,5.16),(218,5.17),(220,5.19),(222,5.18),(224,5.17),(227,5.16),(229,5.12),(231,5.11),(233,5.10),(236,5.10),(238,5.10),(240,5.10),(241.5,5.10),(242,5.35),(243,5.10),(246,5.10),(248,5.10),(250,5.09),(252,5.05),(254,5.02),(257,5.01),(259,5.02),(261,5.01),(263,5.03),(266,5.02),(268,5.04),(270,5.05),(272,5.04),(274,5.03),(276,5.03),(279,5.02),(282,5.01)]
PSR_s4 = [(0,5.28),(1,5.25),(2,5.27),(3,5.29),(4,5.27),(7,5.26),(9,5.27),(11,5.25),(13,5.26),(16,5.23),(18,5.24),(20,5.24),(22,5.22),(24,5.21),(26,5.20),(29,5.19),(31,5.19),(33,5.18),(36,5.19),(38,5.21),(40,5.23),(42,5.24),(44,5.21),(47,5.20),(49,5.18),(50,5.20),(51,5.30),(52,5.20),(53,5.14),(54,5.13),(57,5.13),(59,5.14),(61,5.13),(63,5.12),(66,5.12),(68,5.12),(70,5.12),(72,5.11),(74,5.12),(77,5.11),(79,5.11),(81,5.13),(83,5.13),(86,5.14),(88,5.15),(90,5.16),(92,5.16),(94,5.15),(97,5.14),(99,5.11),(101,5.10),(103,5.09),(106,5.09),(108,5.08),(110,5.07),(112,5.08),(114,5.07),(117,5.07),(119,5.07),(121,5.06),(123,5.06),(126,5.06),(128,5.05),(130,5.06),(132,5.06),(134,5.10),(137,5.10),(139,5.12),(141,5.16),(143,5.20),(145,5.25),(147,5.15),(148,5.05),(150,4.99),(151,4.99),(153,4.98),(156,4.97),(158,4.95),(160,4.93),(162,4.92),(164,4.91),(167,4.91),(169,4.90),(171,4.90),(173,4.91),(174,4.96),(176,4.98),(178,5.00),(180,5.00),(182,5.01),(184,5.02),(186,5.01),(189,5.00),(191,5.00),(193,5.00),(196,4.99),(198,4.99),(200,5.00),(202,5.01),(204,5.02),(207,5.02),(209,5.04),(211,5.05),(213,5.04),(216,5.04),(218,5.05),(220,5.06),(222,5.05),(224,5.06),(227,5.05),(229,5.05),(231,5.05),(233,5.06),(236,5.10),(238,5.09),(240,5.10),(241,5.12),(241.7,5.26),(242.3,5.09),(244,5.03),(247,5.01),(249,5.02),(251,5.03),(253,5.01),(256,5.01),(258,4.99),(260,4.99),(262,5.00),(264,5.01),(267,5.02),(269,5.03),(271,5.05),(273,5.05),(276,5.03),(278,5.05),(280,5.03),(282,5.02)]

PN_s4_right = [(0,100),(1,85),(2,70),(3,75),(4,68),(5,87),(6,70),(8,72),(8.5,68),(9.5,75),(11,65),(12,58),(13,55),(15,50),(16,45),(17,40),(17.5,95),(18,150),(19,152),(20,160),(22,170),(23,175),(24,170),(26,173),(28,180),(30,182),(32,185),(34,190),(37,188),(39,195),(41,192),(43,196),(45,198),(48,198),(50,202),(51,205),(52,155),(52.5,140),(53,205),(55,204),(57,195),(59,190),(61,198),(63,200),(65,205),(67,203),(70,208),(71,185),(73,185),(75,190),(77,197),(80,190),(82,192),(84,188),(85,150),(86,185),(87,195),(89,198),(92,198),(94,197),(96,192),(98,202),(100,210),(103,208),(105,200),(107,203),(109,198),(111,205),(114,210),(115,200),(116,200),(117,144),(119,215),(120,228),(122,235),(125,240),(127,248),(129,245),(131,250),(134,235),(136,225),(138,215),(140,220),(142,215),(145,208),(147,205),(149,202),(151,200),(153,195),(156,205),(158,200),(160,205),(162,208),(164,210),(167,205),(169,210),(171,220),(173,218),(175,210),(178,205),(180,200),(182,205),(184,200),(186,195),(189,200),(191,200),(193,195),(194,185),(195,175),(197,185),(200,188),(201,160),(202,130),(203,118),(204,125),(206,124),(208,126),(211,130),(213,140),(215,143),(217,145),(219,140),(222,140),(224,170),(226,175),(228,177),(230,172),(233,173),(235,170),(237,172),(239,168),(240,140),(241,128),(242,172),(244,173),(246,178),(248,181),(250,182),(252,180),(255,178),(257,200),(259,198),(261,195),(263,210),(266,212),(268,215),(270,220),(272,233),(274,230),(277,245),(279,240),(280,240)]
PMR_s4_right = [(0,12),(1,13),(4,12),(6,11),(8,10),(10,8),(12,9),(15,10),(17,10),(19,12),(21,13),(23,15),(26,16),(28,17),(30,18),(32,20),(34,18),(37,19),(39,18),(41,20),(43,21),(45,19),(48,18),(50,20),(52,22),(54,25),(56,27),(59,28),(61,29),(63,30),(65,29),(67,28),(70,27),(72,28),(74,25),(76,24),(78,18),(81,22),(83,20),(85,17),(87,24),(89,25),(92,26),(94,27),(96,28),(97,23),(99,22),(102,21),(104,22),(106,21),(108,22),(110,20),(113,21),(115,20),(117,21),(119,20),(121,18),(124,12),(126,10),(128,12),(130,14),(132,16),(135,15),(136,24),(137,25),(138,40),(140,40),(142,38),(145,36),(147,35),(149,37),(151,33),(153,32),(156,30),(158,28),(160,26),(162,24),(164,23),(167,22),(169,23),(170,23),(170.5,57),(173,60),(175,58),(178,57),(180,58),(182,61),(184,60),(186,59),(189,57),(191,58),(193,57),(195,58),(197,56),(200,55),(202,54),(204,54),(206,55),(208,57),(211,57),(214,57),(214.5,16),(217,15),(219,16),(222,15),(224,13),(226,15),(228,15),(228.5,57),(230,58),(233,60),(235,58),(237,57),(239,58),(241,59),(242,58),(244,58),(246,56),(248,57),(250,58),(251,65),(253,65),(257,65),(261,65),(266,65),(270,64),(274,63),(277,63),(278,80),(279,82),(280,90)]
PSR_s4_right = [(0,40),(1,35),(4,33),(6,34),(8,32),(10,33),(12,35),(15,38),(17,42),(19,41),(21,44),(23,45),(26,48),(28,50),(30,47),(32,41),(34,40),(37,45),(39,47),(41,44),(43,43),(45,44),(48,48),(50,52),(52,53),(54,57),(56,58),(59,60),(61,58),(63,57),(65,57),(67,60),(70,65),(72,63),(74,67),(76,72),(78,78),(80,83),(82,80),(84,75),(86,73),(88,70),(89,82),(92,80),(94,80),(96,78),(98,80),(100,85),(103,90),(105,93),(107,96),(109,100),(111,97),(114,100),(116,95),(118,90),(120,85),(122,82),(125,80),(127,80),(129,85),(131,80),(134,70),(136,65),(138,62),(140,63),(142,65),(145,62),(147,60),(149,70),(150,75),(151,102),(153,104),(156,105),(158,100),(160,108),(162,110),(164,112),(167,110),(169,108),(171,110),(173,107),(174,60),(175,58),(178,55),(180,62),(182,60),(184,66),(186,65),(189,62),(191,60),(192,77),(194,78),(196,75),(198,72),(201,74),(203,70),(205,72),(207,70),(209,68),(212,73),(214,75),(216,73),(218,65),(220,72),(223,75),(225,73),(227,72),(228,70),(230,55),(233,50),(235,45),(237,42),(239,38),(241,80),(241.5,105),(242,50),(244,48),(246,45),(248,48),(250,48),(252,46),(255,50),(257,48),(259,50),(261,45),(263,42),(266,40),(268,38),(270,32),(271,40),(273,48),(276,45),(278,60),(280,67)]

DASHES = [[1, 0], [3, 2], [11, 4]]
FONT = "Liberation Sans"
GRAD = {"gradient": "linear", "x1": 0, "y1": 0, "x2": 0, "y2": 1,
        "stops": [{"offset": 0, "color": "#f6f6f6"}, {"offset": 1, "color": "#d3d3d3"}]}
# legend line symbol: spans 4 units wide inside a 2-unit square -> 30px line, 15px row
SYMBOL_PATH = "M-1,0H3"


def frame(named):
    rows = []
    for name, pts in named:
        for d, v in pts:
            t = START + pd.Timedelta(hours=round(d * 24))
            rows.append({"date": t.strftime("%Y-%m-%dT%H:%M:%S"), "value": v, "series": name})
    return pd.DataFrame(rows)


def panel(named, ydom, yvals, yfmt, orient, W, H, ext):
    left, right, top, bottom = ext
    names = [n for n, _ in named]
    one = pd.DataFrame({"k": [0]})
    bg = alt.Chart(one).mark_rect(fill=GRAD, strokeWidth=0).encode(
        x=alt.value(-left), x2=alt.value(W + right),
        y=alt.value(-top), y2=alt.value(H + bottom))
    plot = alt.Chart(one).mark_rect(fill="white", stroke="#3c3c3c", strokeWidth=1).encode(
        x=alt.value(0), x2=alt.value(W), y=alt.value(0), y2=alt.value(H))
    lines = alt.Chart(frame(named)).mark_line(color="black", strokeWidth=1, clip=True).encode(
        x=alt.X("date:T", scale=alt.Scale(domain=X_DOMAIN),
                axis=alt.Axis(values=MONTH_TICKS,
                              labelExpr="substring(timeFormat(datum.value, '%b'), 0, 1)",
                              title=YEAR_LABEL, grid=False, domain=False, tickSize=4,
                              tickColor="#333", labelPadding=8, labelFont=FONT,
                              labelFontSize=11, labelColor="#333", titleFont=FONT,
                              titleFontSize=12, titleFontWeight="normal", titleColor="#333",
                              titlePadding=12, zindex=1)),
        y=alt.Y("value:Q", scale=alt.Scale(domain=ydom, nice=False, zero=False),
                axis=alt.Axis(values=yvals, format=yfmt, title=None, grid=False,
                              domain=False, tickSize=5, tickColor="#333", labelPadding=4,
                              labelFont=FONT, labelFontSize=11, labelColor="#333", zindex=1)),
        strokeDash=alt.StrokeDash("series:N", scale=alt.Scale(domain=names, range=DASHES),
                                  legend=alt.Legend(orient=orient, title=None, symbolType=SYMBOL_PATH,
                                                    symbolStrokeColor="black", symbolStrokeWidth=1,
                                                    symbolFillColor="transparent",
                                                    symbolSize=225, labelFont=FONT, labelFontSize=12,
                                                    labelColor="#222", offset=8, padding=0,
                                                    rowPadding=1, labelOffset=19, zindex=2)),
    )
    return alt.layer(bg, plot, lines).properties(width=W, height=H)


H = 273
WL, WR = 423, 425
rows = []
specs = [
    ([("PN_5s64", PN_5s64), ("PMR_5s64", PMR_5s64), ("PSR_5s64", PSR_5s64)], [5.6, 6.4], [5.6, 5.7, 5.8, 5.9, 6.0, 6.1, 6.2, 6.3, 6.4], ".1f",
     [("VN_5s64", VN_5s64), ("VMR_5s64", VMR_5s64), ("VSR_5s64", VSR_5s64)], [0, 160], [0, 20, 40, 60, 80, 100, 120, 140, 160], "d"),
    ([("PN_5s32", PN_5s32), ("PMR_5s32", PMR_5s32), ("PSR_5s32", PSR_5s32)], [5.4, 6.3], [5.4, 5.5, 5.6, 5.7, 5.8, 5.9, 6.0, 6.1, 6.2, 6.3], ".1f",
     [("VN_5s32", VN_5s32), ("VMR_5s32", VMR_5s32), ("VSR_5s32", VSR_5s32)], [0, 200], [0, 40, 80, 120, 160, 200], "d"),
    ([("PN_5s16", PN_5s16), ("PMR_5s16", PMR_5s16), ("PSR_5s16", PSR_5s16)], [5.2, 6.2], [5.2, 5.4, 5.6, 5.8, 6.0, 6.2], ".1f",
     [("VN_5s16", VN_5s16), ("VMR_5s16", VMR_5s16), ("VSR_5s16", VSR_5s16)], [0, 800], [0, 100, 200, 300, 400, 500, 600, 700, 800], "d"),
    ([("PN_s4", PN_s4), ("PMR_s4", PMR_s4), ("PSR_s4", PSR_s4)], [4.8, 6.0], [4.8, 5.0, 5.2, 5.4, 5.6, 5.8, 6.0], ".1f",
     [("PN_s4", PN_s4_right), ("PMR_s4", PMR_s4_right), ("PSR_s4", PSR_s4_right)], [7, 250], [50, 100, 150, 200, 250], "d"),
]
for i, (ln, ld, lv, lf, rn, rd, rv, rf) in enumerate(specs):
    top = 26 if i == 0 else 31
    bottom = 50 if i == 3 else 75
    left_panel = panel(ln, ld, lv, lf, "top-right", WL, H, (53, 65, top, bottom))
    right_panel = panel(rn, rd, rv, rf, "top-left", WR, H, (65, 47, top, bottom))
    rows.append(alt.hconcat(left_panel, right_panel, spacing=0)
                .resolve_scale(strokeDash="independent", x="independent", y="independent")
                .resolve_legend(strokeDash="independent"))

chart = alt.vconcat(*rows, spacing=25).resolve_scale(
    strokeDash="independent", x="independent", y="independent"
).resolve_legend(strokeDash="independent").properties(
    padding={"left": 0, "top": 0, "right": 0, "bottom": 0}
).configure(background="white").configure_view(stroke="transparent")

chart.save("out.html", embed_options={"renderer": "svg", "actions": False})
